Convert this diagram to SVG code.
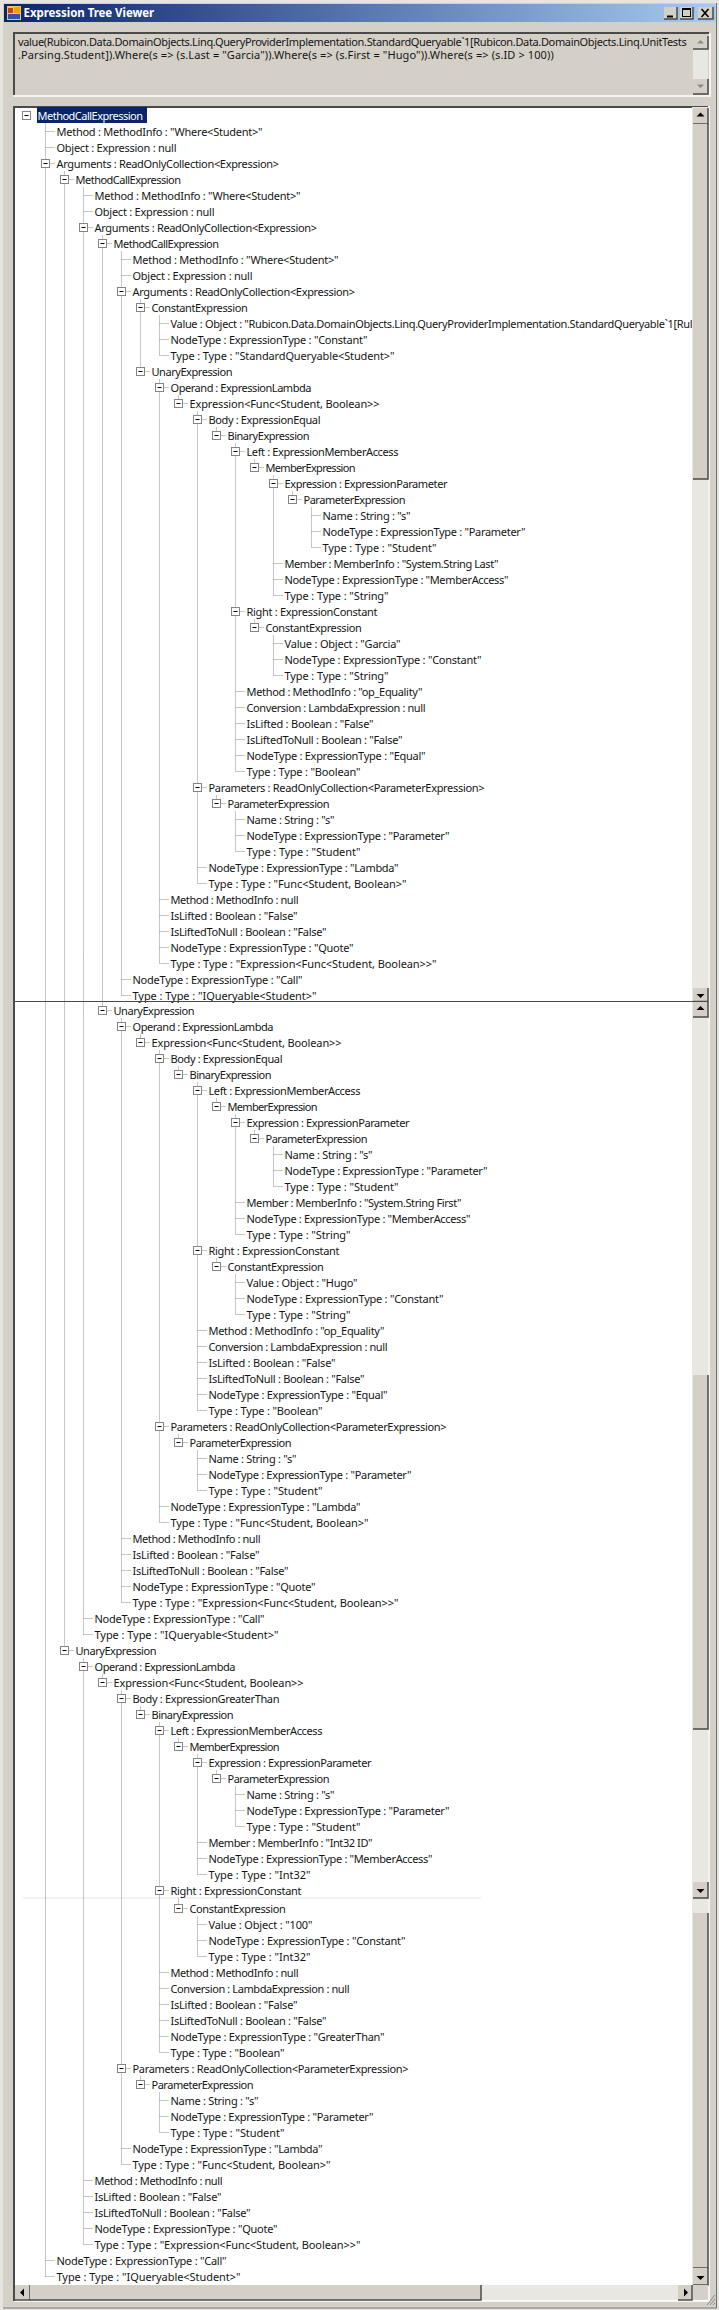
<svg xmlns="http://www.w3.org/2000/svg" width="719" height="2310" viewBox="0 0 719 2310">
<style>
text{font-family:"Noto Sans","Open Sans","DejaVu Sans",sans-serif;font-size:11px;fill:#151515}
.title{font-weight:bold;fill:#fff;font-size:11.500px}
.sel{fill:#fff}
.face{fill:#d4d0c8}
.track{fill:#e9e7e2}
.bevel{fill:none;stroke:#4a4a48;stroke-width:1.5}
.arrow{fill:#000}
.dim{fill:#8a8a86}
.dots{fill:none;stroke:#8c8c8c;stroke-width:1;stroke-dasharray:1 1}
.edge{fill:none;stroke:#4a4a48;stroke-width:2}
.lite{fill:none;stroke:#f4f3f0;stroke-width:2}
</style>
<defs>
<linearGradient id="tg" x1="0" x2="1" y1="0" y2="0"><stop offset="0" stop-color="#0a246a"/><stop offset="1" stop-color="#a6caf0"/></linearGradient>
<g id="minus"><rect x="-4" y="-4" width="8" height="8" fill="#fff" stroke="#858585"/><path d="M-2 0H2" stroke="#000" fill="none"/></g>
</defs>
<g id="window">
<rect width="719" height="2310" fill="#e6e4df"/>
<rect x="3" y="3" width="713" height="2304" fill="#d4d0c8"/>
<path d="M716.5 3V2308M3 2308H717" fill="none" stroke="#707070"/>
<rect x="4" y="4" width="712" height="18" fill="url(#tg)"/>
<g id="icon"><rect x="7" y="6" width="14" height="14" fill="#f2c84a"/><rect x="8" y="8" width="5" height="5" fill="#c8421e"/><rect x="14" y="7" width="6" height="6" fill="#f4a000"/><rect x="8" y="14" width="12" height="5" fill="#3552a8"/></g>
<text class="title" x="23.5" y="16.500" textLength="130.700">Expression Tree Viewer</text>
<g id="btn-min"><rect class="face" x="664" y="7" width="13" height="12"/><path class="bevel" d="M677 7V19H664"/><rect x="667" y="15.5" width="6" height="2" fill="#000"/></g>
<g id="btn-max"><rect class="face" x="680" y="7" width="13" height="12"/><path class="bevel" d="M693 7V19H680"/><rect x="682.5" y="8.5" width="8" height="8" fill="none" stroke="#000"/><path d="M682 9H691" stroke="#000" stroke-width="2"/></g>
<g id="btn-close"><rect class="face" x="698" y="7" width="15" height="12"/><path class="bevel" d="M713 7V19H698"/><path d="M701.5 9L708.5 17M708.5 9L701.5 17" stroke="#000" stroke-width="1.6" fill="none"/></g>
</g>
<g id="expression-box">
<rect class="face" x="13" y="32" width="696" height="63"/>
<path class="edge" d="M14 95V33H709"/>
<path class="lite" d="M13 96H710V33"/>
<text x="18" y="46" textLength="668.700">value(Rubicon.Data.DomainObjects.Linq.QueryProviderImplementation.StandardQueryable`1[Rubicon.Data.DomainObjects.Linq.UnitTests</text>
<text x="18" y="59" textLength="535.700">.Parsing.Student]).Where(s =&gt; (s.Last = "Garcia")).Where(s =&gt; (s.First = "Hugo")).Where(s =&gt; (s.ID &gt; 100))</text>
<rect class="track" x="693" y="36" width="15" height="58"/>
<rect class="face" x="693" y="36" width="15" height="13"/><path class="bevel" d="M708 36V49H693"/>
<rect class="face" x="693" y="79" width="15" height="15"/><path class="bevel" d="M708 79V94H693"/>
<path class="dim" d="M700.500 40l-3.500 3.500h7zM700.500 88l-3.500-3.500h7z"/>
</g>
<g id="tree-pane">
<rect x="13" y="106" width="696" height="2195" fill="#fff"/>
<path class="edge" d="M14 2301V107H709"/>
<path d="M14 2301.500H709.500V106" fill="none" stroke="#f4f3f0"/>
<rect x="37" y="107" width="110" height="16" fill="#0a246a"/>
<path d="M23 1898H481" stroke="#e6e6e6" fill="none"/>
</g>
<g id="connectors" class="dots">
<path d="M45.500 123.500V2276.500M64.500 171.500V1650.500M83.500 187.500V1634.500M102.500 235.500V1010.500M121.500 251.500V995.500M140.500 299.500V371.500M159.500 315.500V355.500M159.500 379.500V963.500M178.500 395.500V403.500M197.500 411.500V883.500M216.500 427.500V435.500M235.500 443.500V771.500M254.500 459.500V467.500M273.500 475.500V595.500M292.500 491.500V499.500M311.500 507.500V547.500M254.500 619.500V627.500M273.500 635.500V675.500M216.500 795.500V803.500M235.500 811.500V851.500"/>
<path d="M121.500 1018.500V1602.500M140.500 1034.500V1042.500M159.500 1050.500V1522.500M178.500 1066.500V1074.500M197.500 1082.500V1410.500M216.500 1098.500V1106.500M235.500 1114.500V1234.500M254.500 1130.500V1138.500M273.500 1146.500V1186.500M216.500 1258.500V1266.500M235.500 1274.500V1314.500M178.500 1434.500V1442.500M197.500 1450.500V1490.500"/>
<path d="M83.500 1658.500V2244.500M102.500 1674.500V1682.500M121.500 1690.500V2164.500M140.500 1706.500V1714.500M159.500 1722.500V2052.500M178.500 1738.500V1746.500M197.500 1754.500V1874.500M216.500 1770.500V1778.500M235.500 1786.500V1826.500M178.500 1898.500V1908.500M197.500 1916.500V1956.500M140.500 2076.500V2084.500M159.500 2092.500V2132.500"/>
<path d="M45.500 131.500h9M45.500 147.500h9M45.500 163.500h9M64.500 179.500h9M83.500 195.500h9M83.500 211.500h9M83.500 227.500h9M102.500 243.500h9M121.500 259.500h9M121.500 275.500h9M121.500 291.500h9M140.500 307.500h9M159.500 323.500h9M159.500 339.500h9M159.500 355.500h9M140.500 371.500h9M159.500 387.500h9M178.500 403.500h9M197.500 419.500h9M216.500 435.500h9M235.500 451.500h9M254.500 467.500h9M273.500 483.500h9M292.500 499.500h9M311.500 515.500h9M311.500 531.500h9M311.500 547.500h9M273.500 563.500h9M273.500 579.500h9M273.500 595.500h9M235.500 611.500h9M254.500 627.500h9M273.500 643.500h9M273.500 659.500h9M273.500 675.500h9M235.500 691.500h9M235.500 707.500h9M235.500 723.500h9M235.500 739.500h9M235.500 755.500h9M235.500 771.500h9M197.500 787.500h9M216.500 803.500h9M235.500 819.500h9M235.500 835.500h9M235.500 851.500h9M197.500 867.500h9M197.500 883.500h9M159.500 899.500h9M159.500 915.500h9M159.500 931.500h9M159.500 947.500h9M159.500 963.500h9M121.500 979.500h9M121.500 995.500h9"/>
<path d="M102.500 1010.500h9M121.500 1026.500h9M140.500 1042.500h9M159.500 1058.500h9M178.500 1074.500h9M197.500 1090.500h9M216.500 1106.500h9M235.500 1122.500h9M254.500 1138.500h9M273.500 1154.500h9M273.500 1170.500h9M273.500 1186.500h9M235.500 1202.500h9M235.500 1218.500h9M235.500 1234.500h9M197.500 1250.500h9M216.500 1266.500h9M235.500 1282.500h9M235.500 1298.500h9M235.500 1314.500h9M197.500 1330.500h9M197.500 1346.500h9M197.500 1362.500h9M197.500 1378.500h9M197.500 1394.500h9M197.500 1410.500h9M159.500 1426.500h9M178.500 1442.500h9M197.500 1458.500h9M197.500 1474.500h9M197.500 1490.500h9M159.500 1506.500h9M159.500 1522.500h9M121.500 1538.500h9M121.500 1554.500h9M121.500 1570.500h9M121.500 1586.500h9M121.500 1602.500h9M83.500 1618.500h9M83.500 1634.500h9M64.500 1650.500h9M83.500 1666.500h9M102.500 1682.500h9M121.500 1698.500h9M140.500 1714.500h9M159.500 1730.500h9M178.500 1746.500h9M197.500 1762.500h9M216.500 1778.500h9M235.500 1794.500h9M235.500 1810.500h9M235.500 1826.500h9M197.500 1842.500h9M197.500 1858.500h9M197.500 1874.500h9M159.500 1890.500h9"/>
<path d="M178.500 1908.500h9M197.500 1924.500h9M197.500 1940.500h9M197.500 1956.500h9M159.500 1972.500h9M159.500 1988.500h9M159.500 2004.500h9M159.500 2020.500h9M159.500 2036.500h9M159.500 2052.500h9M121.500 2068.500h9M140.500 2084.500h9M159.500 2100.500h9M159.500 2116.500h9M159.500 2132.500h9M121.500 2148.500h9M121.500 2164.500h9M83.500 2180.500h9M83.500 2196.500h9M83.500 2212.500h9M83.500 2228.500h9M83.500 2244.500h9M45.500 2260.500h9M45.500 2276.500h9"/>
</g>
<g id="nodes">
<g id="n0"><use href="#minus" x="26.500" y="115.500"/><text class="sel" x="37.500" y="119.500" textLength="105.500">MethodCallExpression</text></g>
<g id="n1"><text x="56.500" y="135.500" textLength="206">Method : MethodInfo : "Where&lt;Student&gt;"</text></g>
<g id="n2"><text x="56.500" y="151.500" textLength="120">Object : Expression : null</text></g>
<g id="n3"><use href="#minus" x="45.500" y="163.500"/><text x="56.500" y="167.500" textLength="222.500">Arguments : ReadOnlyCollection&lt;Expression&gt;</text></g>
<g id="n4"><use href="#minus" x="64.500" y="179.500"/><text x="75.500" y="183.500" textLength="105.500">MethodCallExpression</text></g>
<g id="n5"><text x="94.500" y="199.500" textLength="206">Method : MethodInfo : "Where&lt;Student&gt;"</text></g>
<g id="n6"><text x="94.500" y="215.500" textLength="120">Object : Expression : null</text></g>
<g id="n7"><use href="#minus" x="83.500" y="227.500"/><text x="94.500" y="231.500" textLength="222.500">Arguments : ReadOnlyCollection&lt;Expression&gt;</text></g>
<g id="n8"><use href="#minus" x="102.500" y="243.500"/><text x="113.500" y="247.500" textLength="105.500">MethodCallExpression</text></g>
<g id="n9"><text x="132.500" y="263.500" textLength="206">Method : MethodInfo : "Where&lt;Student&gt;"</text></g>
<g id="n10"><text x="132.500" y="279.500" textLength="120">Object : Expression : null</text></g>
<g id="n11"><use href="#minus" x="121.500" y="291.500"/><text x="132.500" y="295.500" textLength="222.500">Arguments : ReadOnlyCollection&lt;Expression&gt;</text></g>
<g id="n12"><use href="#minus" x="140.500" y="307.500"/><text x="151.500" y="311.500" textLength="96.300">ConstantExpression</text></g>
<g id="n13"><text x="170.500" y="327.500" textLength="522">Value : Object : "Rubicon.Data.DomainObjects.Linq.QueryProviderImplementation.StandardQueryable`1[Rul</text></g>
<g id="n14"><text x="170.500" y="343.500" textLength="197">NodeType : ExpressionType : "Constant"</text></g>
<g id="n15"><text x="170.500" y="359.500" textLength="224">Type : Type : "StandardQueryable&lt;Student&gt;"</text></g>
<g id="n16"><use href="#minus" x="140.500" y="371.500"/><text x="151.500" y="375.500" textLength="81">UnaryExpression</text></g>
<g id="n17"><use href="#minus" x="159.500" y="387.500"/><text x="170.500" y="391.500" textLength="141">Operand : ExpressionLambda</text></g>
<g id="n18"><use href="#minus" x="178.500" y="403.500"/><text x="189.500" y="407.500" textLength="190">Expression&lt;Func&lt;Student, Boolean&gt;&gt;</text></g>
<g id="n19"><use href="#minus" x="197.500" y="419.500"/><text x="208.500" y="423.500" textLength="112">Body : ExpressionEqual</text></g>
<g id="n20"><use href="#minus" x="216.500" y="435.500"/><text x="227.500" y="439.500" textLength="82">BinaryExpression</text></g>
<g id="n21"><use href="#minus" x="235.500" y="451.500"/><text x="246.500" y="455.500" textLength="152">Left : ExpressionMemberAccess</text></g>
<g id="n22"><use href="#minus" x="254.500" y="467.500"/><text x="265.500" y="471.500" textLength="90">MemberExpression</text></g>
<g id="n23"><use href="#minus" x="273.500" y="483.500"/><text x="284.500" y="487.500" textLength="163">Expression : ExpressionParameter</text></g>
<g id="n24"><use href="#minus" x="292.500" y="499.500"/><text x="303.500" y="503.500" textLength="102">ParameterExpression</text></g>
<g id="n25"><text x="322.500" y="519.500" textLength="88">Name : String : "s"</text></g>
<g id="n26"><text x="322.500" y="535.500" textLength="203">NodeType : ExpressionType : "Parameter"</text></g>
<g id="n27"><text x="322.500" y="551.500" textLength="114">Type : Type : "Student"</text></g>
<g id="n28"><text x="284.500" y="567.500" textLength="214">Member : MemberInfo : "System.String Last"</text></g>
<g id="n29"><text x="284.500" y="583.500" textLength="224">NodeType : ExpressionType : "MemberAccess"</text></g>
<g id="n30"><text x="284.500" y="599.500" textLength="104">Type : Type : "String"</text></g>
<g id="n31"><use href="#minus" x="235.500" y="611.500"/><text x="246.500" y="615.500" textLength="131">Right : ExpressionConstant</text></g>
<g id="n32"><use href="#minus" x="254.500" y="627.500"/><text x="265.500" y="631.500" textLength="96.300">ConstantExpression</text></g>
<g id="n33"><text x="284.500" y="647.500" textLength="116">Value : Object : "Garcia"</text></g>
<g id="n34"><text x="284.500" y="663.500" textLength="197">NodeType : ExpressionType : "Constant"</text></g>
<g id="n35"><text x="284.500" y="679.500" textLength="104">Type : Type : "String"</text></g>
<g id="n36"><text x="246.500" y="695.500" textLength="176">Method : MethodInfo : "op_Equality"</text></g>
<g id="n37"><text x="246.500" y="711.500" textLength="179">Conversion : LambdaExpression : null</text></g>
<g id="n38"><text x="246.500" y="727.500" textLength="127">IsLifted : Boolean : "False"</text></g>
<g id="n39"><text x="246.500" y="743.500" textLength="156">IsLiftedToNull : Boolean : "False"</text></g>
<g id="n40"><text x="246.500" y="759.500" textLength="179">NodeType : ExpressionType : "Equal"</text></g>
<g id="n41"><text x="246.500" y="775.500" textLength="114">Type : Type : "Boolean"</text></g>
<g id="n42"><use href="#minus" x="197.500" y="787.500"/><text x="208.500" y="791.500" textLength="276">Parameters : ReadOnlyCollection&lt;ParameterExpression&gt;</text></g>
<g id="n43"><use href="#minus" x="216.500" y="803.500"/><text x="227.500" y="807.500" textLength="102">ParameterExpression</text></g>
<g id="n44"><text x="246.500" y="823.500" textLength="88">Name : String : "s"</text></g>
<g id="n45"><text x="246.500" y="839.500" textLength="203">NodeType : ExpressionType : "Parameter"</text></g>
<g id="n46"><text x="246.500" y="855.500" textLength="114">Type : Type : "Student"</text></g>
<g id="n47"><text x="208.500" y="871.500" textLength="190">NodeType : ExpressionType : "Lambda"</text></g>
<g id="n48"><text x="208.500" y="887.500" textLength="198">Type : Type : "Func&lt;Student, Boolean&gt;"</text></g>
<g id="n49"><text x="170.500" y="903.500" textLength="128">Method : MethodInfo : null</text></g>
<g id="n50"><text x="170.500" y="919.500" textLength="127">IsLifted : Boolean : "False"</text></g>
<g id="n51"><text x="170.500" y="935.500" textLength="156">IsLiftedToNull : Boolean : "False"</text></g>
<g id="n52"><text x="170.500" y="951.500" textLength="183">NodeType : ExpressionType : "Quote"</text></g>
<g id="n53"><text x="170.500" y="967.500" textLength="266">Type : Type : "Expression&lt;Func&lt;Student, Boolean&gt;&gt;"</text></g>
<g id="n54"><text x="132.500" y="983.500" textLength="170">NodeType : ExpressionType : "Call"</text></g>
<g id="n55"><text x="132.500" y="999.500" textLength="184">Type : Type : "IQueryable&lt;Student&gt;"</text></g>
<g id="n56"><use href="#minus" x="102.500" y="1010.500"/><text x="113.500" y="1014.500" textLength="81">UnaryExpression</text></g>
<g id="n57"><use href="#minus" x="121.500" y="1026.500"/><text x="132.500" y="1030.500" textLength="141">Operand : ExpressionLambda</text></g>
<g id="n58"><use href="#minus" x="140.500" y="1042.500"/><text x="151.500" y="1046.500" textLength="190">Expression&lt;Func&lt;Student, Boolean&gt;&gt;</text></g>
<g id="n59"><use href="#minus" x="159.500" y="1058.500"/><text x="170.500" y="1062.500" textLength="112">Body : ExpressionEqual</text></g>
<g id="n60"><use href="#minus" x="178.500" y="1074.500"/><text x="189.500" y="1078.500" textLength="82">BinaryExpression</text></g>
<g id="n61"><use href="#minus" x="197.500" y="1090.500"/><text x="208.500" y="1094.500" textLength="152">Left : ExpressionMemberAccess</text></g>
<g id="n62"><use href="#minus" x="216.500" y="1106.500"/><text x="227.500" y="1110.500" textLength="90">MemberExpression</text></g>
<g id="n63"><use href="#minus" x="235.500" y="1122.500"/><text x="246.500" y="1126.500" textLength="163">Expression : ExpressionParameter</text></g>
<g id="n64"><use href="#minus" x="254.500" y="1138.500"/><text x="265.500" y="1142.500" textLength="102">ParameterExpression</text></g>
<g id="n65"><text x="284.500" y="1158.500" textLength="88">Name : String : "s"</text></g>
<g id="n66"><text x="284.500" y="1174.500" textLength="203">NodeType : ExpressionType : "Parameter"</text></g>
<g id="n67"><text x="284.500" y="1190.500" textLength="114">Type : Type : "Student"</text></g>
<g id="n68"><text x="246.500" y="1206.500" textLength="215">Member : MemberInfo : "System.String First"</text></g>
<g id="n69"><text x="246.500" y="1222.500" textLength="224">NodeType : ExpressionType : "MemberAccess"</text></g>
<g id="n70"><text x="246.500" y="1238.500" textLength="104">Type : Type : "String"</text></g>
<g id="n71"><use href="#minus" x="197.500" y="1250.500"/><text x="208.500" y="1254.500" textLength="131">Right : ExpressionConstant</text></g>
<g id="n72"><use href="#minus" x="216.500" y="1266.500"/><text x="227.500" y="1270.500" textLength="96.300">ConstantExpression</text></g>
<g id="n73"><text x="246.500" y="1286.500" textLength="111">Value : Object : "Hugo"</text></g>
<g id="n74"><text x="246.500" y="1302.500" textLength="197">NodeType : ExpressionType : "Constant"</text></g>
<g id="n75"><text x="246.500" y="1318.500" textLength="104">Type : Type : "String"</text></g>
<g id="n76"><text x="208.500" y="1334.500" textLength="176">Method : MethodInfo : "op_Equality"</text></g>
<g id="n77"><text x="208.500" y="1350.500" textLength="179">Conversion : LambdaExpression : null</text></g>
<g id="n78"><text x="208.500" y="1366.500" textLength="127">IsLifted : Boolean : "False"</text></g>
<g id="n79"><text x="208.500" y="1382.500" textLength="156">IsLiftedToNull : Boolean : "False"</text></g>
<g id="n80"><text x="208.500" y="1398.500" textLength="179">NodeType : ExpressionType : "Equal"</text></g>
<g id="n81"><text x="208.500" y="1414.500" textLength="114">Type : Type : "Boolean"</text></g>
<g id="n82"><use href="#minus" x="159.500" y="1426.500"/><text x="170.500" y="1430.500" textLength="276">Parameters : ReadOnlyCollection&lt;ParameterExpression&gt;</text></g>
<g id="n83"><use href="#minus" x="178.500" y="1442.500"/><text x="189.500" y="1446.500" textLength="102">ParameterExpression</text></g>
<g id="n84"><text x="208.500" y="1462.500" textLength="88">Name : String : "s"</text></g>
<g id="n85"><text x="208.500" y="1478.500" textLength="203">NodeType : ExpressionType : "Parameter"</text></g>
<g id="n86"><text x="208.500" y="1494.500" textLength="114">Type : Type : "Student"</text></g>
<g id="n87"><text x="170.500" y="1510.500" textLength="190">NodeType : ExpressionType : "Lambda"</text></g>
<g id="n88"><text x="170.500" y="1526.500" textLength="198">Type : Type : "Func&lt;Student, Boolean&gt;"</text></g>
<g id="n89"><text x="132.500" y="1542.500" textLength="128">Method : MethodInfo : null</text></g>
<g id="n90"><text x="132.500" y="1558.500" textLength="127">IsLifted : Boolean : "False"</text></g>
<g id="n91"><text x="132.500" y="1574.500" textLength="156">IsLiftedToNull : Boolean : "False"</text></g>
<g id="n92"><text x="132.500" y="1590.500" textLength="183">NodeType : ExpressionType : "Quote"</text></g>
<g id="n93"><text x="132.500" y="1606.500" textLength="266">Type : Type : "Expression&lt;Func&lt;Student, Boolean&gt;&gt;"</text></g>
<g id="n94"><text x="94.500" y="1622.500" textLength="170">NodeType : ExpressionType : "Call"</text></g>
<g id="n95"><text x="94.500" y="1638.500" textLength="184">Type : Type : "IQueryable&lt;Student&gt;"</text></g>
<g id="n96"><use href="#minus" x="64.500" y="1650.500"/><text x="75.500" y="1654.500" textLength="81">UnaryExpression</text></g>
<g id="n97"><use href="#minus" x="83.500" y="1666.500"/><text x="94.500" y="1670.500" textLength="141">Operand : ExpressionLambda</text></g>
<g id="n98"><use href="#minus" x="102.500" y="1682.500"/><text x="113.500" y="1686.500" textLength="190">Expression&lt;Func&lt;Student, Boolean&gt;&gt;</text></g>
<g id="n99"><use href="#minus" x="121.500" y="1698.500"/><text x="132.500" y="1702.500" textLength="147">Body : ExpressionGreaterThan</text></g>
<g id="n100"><use href="#minus" x="140.500" y="1714.500"/><text x="151.500" y="1718.500" textLength="82">BinaryExpression</text></g>
<g id="n101"><use href="#minus" x="159.500" y="1730.500"/><text x="170.500" y="1734.500" textLength="152">Left : ExpressionMemberAccess</text></g>
<g id="n102"><use href="#minus" x="178.500" y="1746.500"/><text x="189.500" y="1750.500" textLength="90">MemberExpression</text></g>
<g id="n103"><use href="#minus" x="197.500" y="1762.500"/><text x="208.500" y="1766.500" textLength="163">Expression : ExpressionParameter</text></g>
<g id="n104"><use href="#minus" x="216.500" y="1778.500"/><text x="227.500" y="1782.500" textLength="102">ParameterExpression</text></g>
<g id="n105"><text x="246.500" y="1798.500" textLength="88">Name : String : "s"</text></g>
<g id="n106"><text x="246.500" y="1814.500" textLength="203">NodeType : ExpressionType : "Parameter"</text></g>
<g id="n107"><text x="246.500" y="1830.500" textLength="114">Type : Type : "Student"</text></g>
<g id="n108"><text x="208.500" y="1846.500" textLength="164">Member : MemberInfo : "Int32 ID"</text></g>
<g id="n109"><text x="208.500" y="1862.500" textLength="224">NodeType : ExpressionType : "MemberAccess"</text></g>
<g id="n110"><text x="208.500" y="1878.500" textLength="102">Type : Type : "Int32"</text></g>
<g id="n111"><use href="#minus" x="159.500" y="1890.500"/><text x="170.500" y="1894.500" textLength="131">Right : ExpressionConstant</text></g>
<g id="n112"><use href="#minus" x="178.500" y="1908.500"/><text x="189.500" y="1912.500" textLength="96.300">ConstantExpression</text></g>
<g id="n113"><text x="208.500" y="1928.500" textLength="104">Value : Object : "100"</text></g>
<g id="n114"><text x="208.500" y="1944.500" textLength="197">NodeType : ExpressionType : "Constant"</text></g>
<g id="n115"><text x="208.500" y="1960.500" textLength="102">Type : Type : "Int32"</text></g>
<g id="n116"><text x="170.500" y="1976.500" textLength="128">Method : MethodInfo : null</text></g>
<g id="n117"><text x="170.500" y="1992.500" textLength="179">Conversion : LambdaExpression : null</text></g>
<g id="n118"><text x="170.500" y="2008.500" textLength="127">IsLifted : Boolean : "False"</text></g>
<g id="n119"><text x="170.500" y="2024.500" textLength="156">IsLiftedToNull : Boolean : "False"</text></g>
<g id="n120"><text x="170.500" y="2040.500" textLength="214">NodeType : ExpressionType : "GreaterThan"</text></g>
<g id="n121"><text x="170.500" y="2056.500" textLength="114">Type : Type : "Boolean"</text></g>
<g id="n122"><use href="#minus" x="121.500" y="2068.500"/><text x="132.500" y="2072.500" textLength="276">Parameters : ReadOnlyCollection&lt;ParameterExpression&gt;</text></g>
<g id="n123"><use href="#minus" x="140.500" y="2084.500"/><text x="151.500" y="2088.500" textLength="102">ParameterExpression</text></g>
<g id="n124"><text x="170.500" y="2104.500" textLength="88">Name : String : "s"</text></g>
<g id="n125"><text x="170.500" y="2120.500" textLength="203">NodeType : ExpressionType : "Parameter"</text></g>
<g id="n126"><text x="170.500" y="2136.500" textLength="114">Type : Type : "Student"</text></g>
<g id="n127"><text x="132.500" y="2152.500" textLength="190">NodeType : ExpressionType : "Lambda"</text></g>
<g id="n128"><text x="132.500" y="2168.500" textLength="198">Type : Type : "Func&lt;Student, Boolean&gt;"</text></g>
<g id="n129"><text x="94.500" y="2184.500" textLength="128">Method : MethodInfo : null</text></g>
<g id="n130"><text x="94.500" y="2200.500" textLength="127">IsLifted : Boolean : "False"</text></g>
<g id="n131"><text x="94.500" y="2216.500" textLength="156">IsLiftedToNull : Boolean : "False"</text></g>
<g id="n132"><text x="94.500" y="2232.500" textLength="183">NodeType : ExpressionType : "Quote"</text></g>
<g id="n133"><text x="94.500" y="2248.500" textLength="266">Type : Type : "Expression&lt;Func&lt;Student, Boolean&gt;&gt;"</text></g>
<g id="n134"><text x="56.500" y="2264.500" textLength="170">NodeType : ExpressionType : "Call"</text></g>
<g id="n135"><text x="56.500" y="2280.500" textLength="184">Type : Type : "IQueryable&lt;Student&gt;"</text></g>
</g>
<g id="scrollbars">
<rect class="track" x="692" y="107" width="16" height="2178"/>
<path d="M708.500 106V2301" stroke="#f4f3f0" fill="none"/>
<rect class="face" x="693" y="108" width="15" height="16"/><path class="bevel" d="M708 108V124H693"/>
<rect class="face" x="693" y="124" width="15" height="355"/><path class="bevel" d="M708 124V479H693"/>
<rect class="face" x="693" y="988" width="15" height="13.500"/><path class="bevel" d="M708 988V1001.500H693"/>
<rect class="face" x="693" y="1002" width="15" height="15"/><path class="bevel" d="M708 1002V1017H693"/>
<rect class="face" x="693" y="1375" width="15" height="354"/><path class="bevel" d="M708 1375V1729H693"/>
<rect class="face" x="693" y="1882" width="15" height="16"/><path class="bevel" d="M708 1882V1898H693"/>
<rect class="face" x="693" y="1913" width="15" height="355"/><path class="bevel" d="M708 1913V2268H693"/>
<rect class="face" x="693" y="2268" width="15" height="17"/><path class="bevel" d="M708 2268V2285H693"/>
<path class="arrow" d="M700.500 112.500l-4 4h8zM700.500 998l-4-4h8zM700.500 1006l-4 4h8zM700.500 1893l-4-4h8zM700.500 2280l-4-4h8z"/>
<rect class="track" x="15" y="2285" width="663" height="15"/>
<rect class="face" x="15" y="2285" width="15" height="15"/><path class="bevel" d="M30 2285V2300H15"/>
<rect class="face" x="30" y="2285" width="451" height="15"/><path class="bevel" d="M481 2285V2300H30"/>
<rect class="face" x="678" y="2285" width="14" height="15"/><path class="bevel" d="M692 2285V2300H678"/>
<rect class="face" x="693" y="2285" width="15" height="15"/>
<path class="arrow" d="M20 2292.500l4-4v8zM688 2292.500l-4-4v8z"/>
<path d="M707 2305L715 2295M710 2305L715 2299M713 2305L715 2303" stroke="#8a8a86" fill="none"/>
</g>
<path id="pane-seam" d="M13 1001.500H693" stroke="#4a4a48" fill="none"/>
</svg>
